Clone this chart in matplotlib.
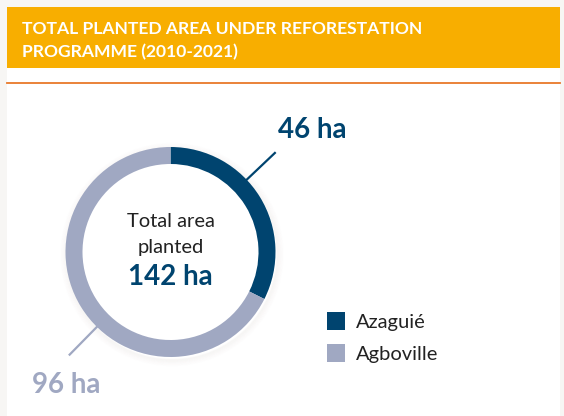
import numpy as np
import matplotlib.pyplot as plt
from matplotlib.patches import Rectangle, Circle

plt.rcParams['font.family'] = ['Lato', 'DejaVu Sans']

# data
regions = ['Azaguié', 'Agboville']
areas = [46, 96]
colors = ['#00446F', '#A0A8C2']
title_lines = ['TOTAL PLANTED AREA UNDER REFORESTATION', 'PROGRAMME (2010-2021)']

W, H = 564, 416
fig = plt.figure(figsize=(W / 100, H / 100), dpi=100, facecolor='#F7F6F4')
ax = fig.add_axes([0, 0, 1, 1])


# pixel coords, y measured from top
def py(y):
    return H - y


# donut
cx, cy = 170.5, py(252)
r_out, ring = 105, 17

wedges, _ = ax.pie(areas, colors=colors, startangle=90, counterclock=False,
                   center=(cx, cy), radius=r_out, frame=True,
                   wedgeprops=dict(width=ring, edgecolor='none'))
for w in wedges:
    w.set_zorder(3)
ax.set_xlim(0, W)
ax.set_ylim(0, H)
ax.set_aspect('equal')
ax.axis('off')

# card, header band and separator line
ax.add_patch(Rectangle((7, 0), 553, py(7), facecolor='white', edgecolor='none', zorder=0))
ax.add_patch(Rectangle((7, py(68)), 553, 61, facecolor='#F8AE00', edgecolor='none', zorder=1))
ax.plot([7, 560], [py(83), py(83)], color='#E8782A', lw=1.3, zorder=1)
for i, line in enumerate(title_lines):
    ax.text(22, py(34 + i * 23), line, color='white', fontsize=12.6, fontweight='bold',
            ha='left', va='baseline', zorder=2)

# soft shadow behind the ring
for k in range(8):
    ax.add_patch(Circle((cx + 1.5, cy - 2.5), r_out + k * 0.9, facecolor='none',
                        edgecolor='#8a7a68', lw=1.2, alpha=0.035 * (8 - k) / 8, zorder=2))

# leader lines and value labels
leaders = [(43.5, 278, 138), (225.5, 32, 393)]
for (ang, tx, ty), val, col in zip(leaders, areas, colors):
    a = np.deg2rad(ang)
    ax.plot([cx + 98 * np.cos(a), cx + 145 * np.cos(a)],
            [cy + 98 * np.sin(a), cy + 145 * np.sin(a)],
            color=col, lw=1.6, zorder=4, solid_capstyle='butt')
    ax.text(tx, py(ty), f'{val} ha', color=col, fontsize=20, fontweight='bold',
            ha='left', va='baseline', zorder=4)

# centre text
ax.text(cx, py(227), 'Total area', color='#222222', fontsize=14.5, ha='center', va='baseline', zorder=4)
ax.text(cx, py(253), 'planted', color='#222222', fontsize=14.5, ha='center', va='baseline', zorder=4)
ax.text(cx, py(285), f'{sum(areas)} ha', color=colors[0], fontsize=20, fontweight='bold',
        ha='center', va='baseline', zorder=4)

# legend
for i, (name, col) in enumerate(zip(regions, colors)):
    top = 312 + i * 32
    ax.add_patch(Rectangle((327, py(top + 18)), 18, 18, facecolor=col, edgecolor='none', zorder=4))
    ax.text(356, py(top + 16), name, color='#222222', fontsize=14.5, ha='left', va='baseline', zorder=4)

fig.savefig('out.png', dpi=100, facecolor=fig.get_facecolor())
